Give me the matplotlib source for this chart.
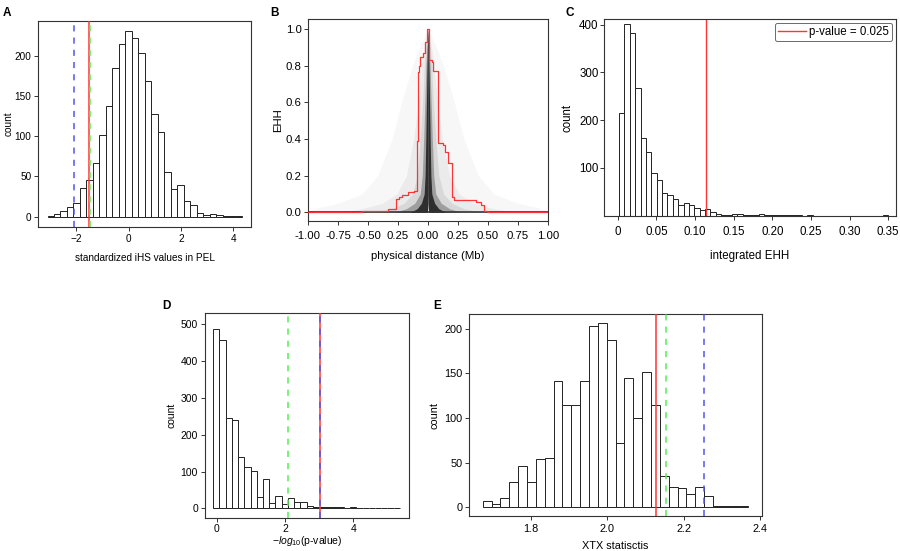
import numpy as np
import matplotlib
matplotlib.use('Agg')
import matplotlib.pyplot as plt

plt.rcParams['font.family'] = ['Liberation Sans', 'DejaVu Sans']
plt.rcParams['font.size'] = 7.2
plt.rcParams['mathtext.fontset'] = 'custom'
plt.rcParams['mathtext.it'] = 'Liberation Sans:italic'
plt.rcParams['mathtext.rm'] = 'Liberation Sans'

RED = '#ff3535'
GREEN = '#55ee55'
BLUE = '#5555ee'

# A: standardized iHS histogram
ihs_start, ihs_width = -3.1, 0.2475
ihs_counts = [1, 3, 7, 12, 17, 36, 45, 67, 101, 138, 185, 214, 231, 222, 204,
              168, 128, 105, 55, 35, 40, 19, 14, 4, 2, 3, 2, 1, 0.5, 1]
ihs_lines = {'blue': -2.10, 'red': -1.52, 'green': -1.46}

# B: EHH decay around the focal SNP (cloud of all SNPs as nested bands + one SNP in red)
ehh_levels = [0.0, 0.02, 0.05, 0.1, 0.2, 0.4, 0.6, 0.8, 0.9, 1.0]
ehh_notch = [0.005, 0.003, 0.001, 0, 0, 0, 0, 0, 0, 0]
ehh_bands = [
    [1.00, 0.95, 0.75, 0.55, 0.42, 0.30, 0.22, 0.13, 0.07, 0.0],
    [0.75, 0.55, 0.38, 0.26, 0.18, 0.12, 0.08, 0.05, 0.03, 0.0],
    [0.45, 0.30, 0.20, 0.13, 0.09, 0.065, 0.045, 0.03, 0.018, 0.0],
    [0.28, 0.18, 0.11, 0.065, 0.048, 0.036, 0.026, 0.017, 0.010, 0.0],
    [0.15, 0.09, 0.055, 0.032, 0.024, 0.018, 0.013, 0.008, 0.005, 0.0],
]
ehh_alpha = [0.03, 0.05, 0.09, 0.3, 0.85]
red_x = [-1.0, -0.55, -0.33, -0.265, -0.245, -0.215, -0.165, -0.115, -0.095, -0.085,
         -0.078, -0.065, -0.040, -0.025, -0.010, 0.005, 0.010, 0.030, 0.040, 0.085,
         0.125, 0.140, 0.165, 0.200, 0.215, 0.320, 0.400, 0.440, 0.465, 0.500, 1.0]
red_y = [0.0, 0.008, 0.020, 0.075, 0.085, 0.095, 0.110, 0.118, 0.390, 0.765,
         0.800, 0.850, 0.870, 0.930, 1.000, 0.950, 0.830, 0.820, 0.770, 0.380,
         0.370, 0.330, 0.270, 0.085, 0.070, 0.065, 0.055, 0.040, 0.010, 0.003, 0.003]
b_ticks = [-1.0, -0.75, -0.5, -0.25, 0.0, 0.25, 0.5, 0.75, 1.0]
b_ticklabels = ['-1.00', '-0.75', '-0.50', '0.25', '0.00', '0.25', '0.50', '0.75', '1.00']

# C: integrated EHH histogram
iehh_start, iehh_width = 0.0017, 0.00696
iehh_counts = [214, 401, 383, 267, 163, 134, 90, 75, 48, 43,
               35, 22, 26, 21, 15, 11, 13, 8, 4, 2,
               2, 3, 3, 1, 1, 1, 3, 1, 1, 2,
               1, 1, 2, 1, 0, 1, 0, 0, 0, 0,
               0, 0, 0, 0, 0, 0, 0, 0, 0, 1]
iehh_cut = 0.1148

# D: -log10(p-value) histogram
logp_start, logp_width = -0.1, 0.182
logp_counts = [488, 457, 246, 241, 140, 111, 102, 30, 79, 15,
               35, 11, 29, 17, 17, 6, 5, 5, 4, 4,
               4, 2, 3, 2, 1, 1, 1, 1, 1, 1]
logp_lines = {'green': 2.08, 'red': 3.03, 'blue': 3.03}

# E: XTX histogram
xtx_start, xtx_width = 1.674, 0.02317
xtx_counts = [7, 4, 11, 28, 46, 28, 54, 55, 141, 115,
              115, 141, 203, 206, 187, 72, 145, 100, 151, 115,
              35, 23, 22, 15, 23, 13, 2, 2, 1, 2]
xtx_lines = {'red': 2.128, 'green': 2.153, 'blue': 2.252}


def r_style(ax, fs, xpad=2.5, ypad=1.5):
    for s in ax.spines.values():
        s.set_linewidth(0.8)
        s.set_color('#333333')
    ax.tick_params(direction='out', length=3, width=0.7, color='#333333',
                   top=False, right=False, labelsize=fs)
    ax.tick_params(axis='x', pad=xpad)
    ax.tick_params(axis='y', pad=ypad)


def hist_panel(ax, start, width, counts):
    counts = np.array(counts, dtype=float)
    edges = start + width * np.arange(len(counts) + 1)
    centers = edges[:-1] + width / 2
    ax.hist(centers, bins=edges, weights=counts, color='white',
            edgecolor='#222222', linewidth=0.7)


def vlines(ax, lines):
    for name, x in lines.items():
        if name == 'red':
            ax.axvline(x, color=RED, lw=1.1, zorder=4)
        else:
            col = GREEN if name == 'green' else BLUE
            ax.axvline(x, color=col, lw=1.1, dashes=(4, 4), zorder=5)


fig = plt.figure(figsize=(9.0, 5.51), dpi=100)

# panel A
fsA = 7.2
axA = fig.add_axes([0.0426, 0.5886, 0.2360, 0.3738])
hist_panel(axA, ihs_start, ihs_width, ihs_counts)
vlines(axA, ihs_lines)
axA.set_xlim(-3.45, 4.66)
axA.set_ylim(-12.4, 243.5)
axA.set_xticks([-2, 0, 2, 4])
axA.set_xticklabels(['\u22122', '0', '2', '4'])
axA.set_yticks([0, 50, 100, 150, 200])
axA.set_xlabel('standardized iHS values in PEL', fontsize=fsA, labelpad=6)
axA.set_ylabel('count', fontsize=fsA, labelpad=0.5)
r_style(axA, fsA, xpad=2.5, ypad=2)

# panel B
fsB = 8.2
axB = fig.add_axes([0.3422, 0.5989, 0.2667, 0.3666])
for band, a in zip(ehh_bands, ehh_alpha):
    axB.fill_betweenx(ehh_levels, ehh_notch, band, color='#1a1a1a', alpha=a, lw=0)
    axB.fill_betweenx(ehh_levels, [-v for v in band], [-v for v in ehh_notch],
                      color='#1a1a1a', alpha=a, lw=0)
axB.axhline(0, color='#333333', lw=1.2)
axB.step(red_x, red_y, where='post', color=RED, lw=0.9, zorder=5)
axB.set_xlim(-1.0, 1.0)
axB.set_ylim(-0.047, 1.055)
axB.set_xticks(b_ticks)
axB.set_xticklabels(b_ticklabels)
axB.set_yticks([0.0, 0.2, 0.4, 0.6, 0.8, 1.0])
axB.set_yticklabels(['0.0', '0.2', '0.4', '0.6', '0.8', '1.0'])
axB.set_xlabel('physical distance (Mb)', fontsize=fsB, labelpad=7)
axB.set_ylabel('EHH', fontsize=fsB, labelpad=2)
r_style(axB, fsB, xpad=4.5, ypad=1.5)

# panel C
fsC = 8.3
axC = fig.add_axes([0.6711, 0.6080, 0.3244, 0.3575])
hist_panel(axC, iehh_start, iehh_width, iehh_counts)
axC.axvline(iehh_cut, color=RED, lw=1.0, label='p-value = 0.025')
axC.set_xlim(-0.0177, 0.360)
axC.set_ylim(-1, 412)
axC.set_xticks([0, 0.05, 0.10, 0.15, 0.20, 0.25, 0.30, 0.35])
axC.set_xticklabels(['0', '0.05', '0.10', '0.15', '0.20', '0.25', '0.30', '0.35'])
axC.set_yticks([100, 200, 300, 400])
axC.set_xlabel('integrated EHH', fontsize=fsC, labelpad=9)
axC.set_ylabel('count', fontsize=fsC, labelpad=4)
leg = axC.legend(loc='upper right', fontsize=fsC, frameon=True, fancybox=True,
                 handlelength=2.4, handletextpad=0.3, borderpad=0.25, borderaxespad=0.35)
leg.get_frame().set_edgecolor('#444444')
leg.get_frame().set_linewidth(0.7)
r_style(axC, fsC, xpad=4, ypad=0.8)

# panel D
fsD = 7.5
axD = fig.add_axes([0.2278, 0.0599, 0.2267, 0.3720])
hist_panel(axD, logp_start, logp_width, logp_counts)
vlines(axD, logp_lines)
axD.set_xlim(-0.34, 5.63)
axD.set_ylim(-26, 530)
axD.set_xticks([0, 2, 4])
axD.set_yticks([0, 100, 200, 300, 400, 500])
axD.set_xlabel(r'$-\mathit{log}_{\mathit{10}}$(p-value)', fontsize=fsD, labelpad=0)
axD.set_ylabel('count', fontsize=fsD, labelpad=3)
r_style(axD, fsD, xpad=1.5, ypad=2)

# panel E
fsE = 7.8
axE = fig.add_axes([0.5215, 0.0635, 0.3249, 0.3660])
hist_panel(axE, xtx_start, xtx_width, xtx_counts)
vlines(axE, xtx_lines)
axE.set_xlim(1.639, 2.404)
axE.set_ylim(-9.7, 216)
axE.set_xticks([1.8, 2.0, 2.2, 2.4])
axE.set_xticklabels(['1.8', '2.0', '2.2', '2.4'])
axE.set_yticks([0, 50, 100, 150, 200])
axE.set_xlabel('XTX statisctis', fontsize=fsE, labelpad=5)
axE.set_ylabel('count', fontsize=fsE, labelpad=3)
r_style(axE, fsE, xpad=2.5, ypad=2)

for lab, x, y in [('A', 0.003, 0.988), ('B', 0.300, 0.988), ('C', 0.628, 0.988),
                  ('D', 0.180, 0.455), ('E', 0.481, 0.455)]:
    fig.text(x, y, lab, fontsize=8.5, fontweight='bold', va='top', ha='left')

fig.savefig('out.png', dpi=100)
